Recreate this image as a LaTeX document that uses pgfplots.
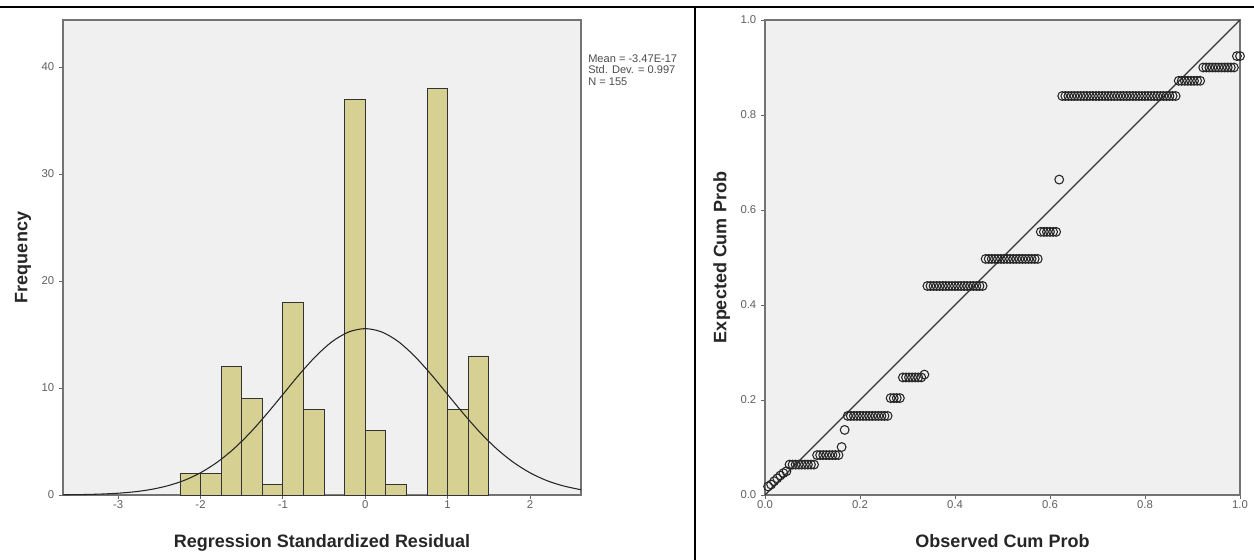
\documentclass[border=0pt]{standalone}
\usepackage{fontspec}
\setmainfont{Liberation Sans}
\usepackage{pgfplots}
\usepackage{pgfplotstable}
\pgfplotsset{compat=1.18}

\definecolor{barfill}{RGB}{214,209,146}
\definecolor{plotbg}{RGB}{240,240,240}
\definecolor{ticktxt}{RGB}{95,95,95}

% histogram bins (left edge, count), width 0.25
\pgfplotstableread{
x     n
-2.25 2
-2.00 2
-1.75 12
-1.50 9
-1.25 1
-1.00 18
-0.75 8
-0.50 0
-0.25 37
0.00  6
0.25  1
0.50  0
0.75  38
1.00  8
1.25  13
1.50  0
}\histdata

% normal curve, N=155, sd=0.997, bin 0.25
\pgfplotstableread{
x     f
-3.67 0.018
-3.4  0.046
-3.2  0.090
-3.0  0.168
-2.8  0.30
-2.6  0.52
-2.4  0.86
-2.2  1.36
-2.0  2.08
-1.8  3.05
-1.6  4.29
-1.4  5.80
-1.2  7.54
-1.0  9.40
-0.8  11.27
-0.6  12.97
-0.4  14.35
-0.2  15.24
0.0   15.55
0.2   15.24
0.4   14.35
0.6   12.97
0.8   11.27
1.0   9.40
1.2   7.54
1.4   5.80
1.6   4.29
1.8   3.05
2.0   2.08
2.2   1.36
2.4   0.86
2.62  0.49
}\normdata

% P-P plot points
\pgfplotstableread{
obs    ex
0.0065 0.018
0.0129 0.022
0.0194 0.029
0.0258 0.035
0.0323 0.041
0.0387 0.046
0.0452 0.050
0.0516 0.064
0.0581 0.064
0.0645 0.064
0.0710 0.064
0.0774 0.064
0.0839 0.064
0.0903 0.064
0.0968 0.064
0.1032 0.064
0.1097 0.084
0.1161 0.084
0.1226 0.084
0.1290 0.084
0.1355 0.084
0.1419 0.084
0.1484 0.084
0.1548 0.084
0.1613 0.101
0.1677 0.137
0.1742 0.1665
0.1806 0.1665
0.1871 0.1665
0.1935 0.1665
0.2000 0.1665
0.2065 0.1665
0.2129 0.1665
0.2194 0.1665
0.2258 0.1665
0.2323 0.1665
0.2387 0.1665
0.2452 0.1665
0.2516 0.1665
0.2581 0.1665
0.2645 0.204
0.2710 0.204
0.2774 0.204
0.2839 0.204
0.2903 0.2475
0.2968 0.2475
0.3032 0.2475
0.3097 0.2475
0.3161 0.2475
0.3226 0.2475
0.3290 0.2475
0.3355 0.2535
0.3419 0.440
0.3484 0.440
0.3548 0.440
0.3613 0.440
0.3677 0.440
0.3742 0.440
0.3806 0.440
0.3871 0.440
0.3935 0.440
0.4000 0.440
0.4065 0.440
0.4129 0.440
0.4194 0.440
0.4258 0.440
0.4323 0.440
0.4387 0.440
0.4452 0.440
0.4516 0.440
0.4581 0.440
0.4645 0.497
0.4710 0.497
0.4774 0.497
0.4839 0.497
0.4903 0.497
0.4968 0.497
0.5032 0.497
0.5097 0.497
0.5161 0.497
0.5226 0.497
0.5290 0.497
0.5355 0.497
0.5419 0.497
0.5484 0.497
0.5548 0.497
0.5613 0.497
0.5677 0.497
0.5742 0.497
0.5806 0.554
0.5871 0.554
0.5935 0.554
0.6000 0.554
0.6065 0.554
0.6129 0.554
0.6194 0.664
0.6258 0.840
0.6323 0.840
0.6387 0.840
0.6452 0.840
0.6516 0.840
0.6581 0.840
0.6645 0.840
0.6710 0.840
0.6774 0.840
0.6839 0.840
0.6903 0.840
0.6968 0.840
0.7032 0.840
0.7097 0.840
0.7161 0.840
0.7226 0.840
0.7290 0.840
0.7355 0.840
0.7419 0.840
0.7484 0.840
0.7548 0.840
0.7613 0.840
0.7677 0.840
0.7742 0.840
0.7806 0.840
0.7871 0.840
0.7935 0.840
0.8000 0.840
0.8065 0.840
0.8129 0.840
0.8194 0.840
0.8258 0.840
0.8323 0.840
0.8387 0.840
0.8452 0.840
0.8516 0.840
0.8581 0.840
0.8645 0.840
0.8710 0.872
0.8774 0.872
0.8839 0.872
0.8903 0.872
0.8968 0.872
0.9032 0.872
0.9097 0.872
0.9161 0.872
0.9226 0.900
0.9290 0.900
0.9355 0.900
0.9419 0.900
0.9484 0.900
0.9548 0.900
0.9613 0.900
0.9677 0.900
0.9742 0.900
0.9806 0.900
0.9871 0.900
0.9935 0.924
1.0000 0.924
}\ppdata

\pgfplotsset{spss/.style={
    scale only axis,
    axis background/.style={fill=plotbg},
    axis line style={draw=black!55, line width=0.8pt},
    tick align=outside, tickpos=left,
    major tick length=3pt,
    tick style={black!60, line width=0.6pt},
    ticklabel style={font=\fontsize{8.5}{10}\selectfont, text=ticktxt},
    xticklabel style={yshift=2pt},
    /pgf/number format/assume math mode=true,
    label style={font=\bfseries\fontsize{13.5}{15}\selectfont, text=black!85},
    xlabel style={yshift=-12pt},
    ylabel style={yshift=1pt},
    clip=false,
}}

\begin{document}
\begin{tikzpicture}
\useasboundingbox (0,0) rectangle (940.5pt,420pt);

% panel frame lines
\draw[black, line width=1.5pt] (0,414.75pt) -- (940.5pt,414.75pt);
\draw[black, line width=1.2pt] (521.25pt,0) -- (521.25pt,414.75pt);

\begin{axis}[spss,
    at={(47.25pt,48.75pt)}, anchor=south west,
    width=388.5pt, height=356.25pt,
    xmin=-3.67, xmax=2.62, ymin=0, ymax=44.4,
    xtick={-3,-2,-1,0,1,2}, ytick={0,10,20,30,40},
    xlabel={Regression Standardized Residual},
    ylabel={Frequency},
]
\addplot[ybar interval, fill=barfill, draw=black!80, line width=0.6pt]
    table[x=x, y=n] {\histdata};
\addplot[black!85, line width=0.8pt, smooth, no marks]
    table[x=x, y=f] {\normdata};
\end{axis}

\node[anchor=north west, inner sep=0pt, align=left, text=black!70,
      font=\fontsize{8.3}{8.5}\selectfont] at (441pt,379pt)
      {Mean = -3.47E-17\\Std. Dev. = 0.997\\N = 155};

\begin{axis}[spss,
    at={(573.75pt,48.75pt)}, anchor=south west,
    width=356.25pt, height=356.25pt,
    xmin=0, xmax=1, ymin=0, ymax=1,
    xtick={0,0.2,0.4,0.6,0.8,1}, ytick={0,0.2,0.4,0.6,0.8,1},
    xticklabels={0.0,0.2,0.4,0.6,0.8,1.0},
    yticklabels={0.0,0.2,0.4,0.6,0.8,1.0},
    xlabel={Observed Cum Prob},
    ylabel={Expected Cum Prob},
]
\addplot[black!80, line width=0.8pt, no marks] coordinates {(0,0) (1,1)};
\addplot[only marks, mark=o, mark size=3.3pt,
         mark options={draw=black!85, line width=0.8pt}]
    table[x=obs, y=ex] {\ppdata};
\end{axis}
\end{tikzpicture}
\end{document}
